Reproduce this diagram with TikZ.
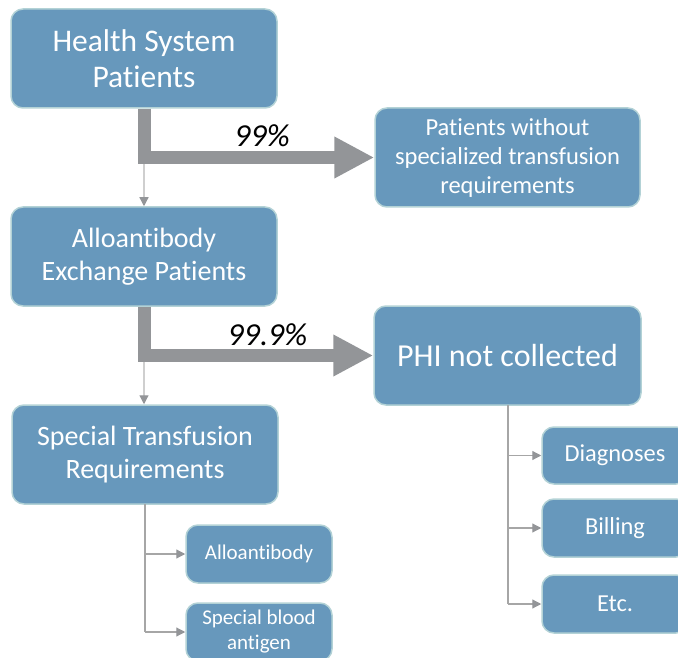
\documentclass[tikz,border=0pt]{standalone}
\usepackage{fontspec}
\setmainfont{Carlito}[Ligatures=NoCommon]
\usetikzlibrary{arrows.meta}
\definecolor{boxfill}{HTML}{6798BC}
\definecolor{boxedge}{HTML}{B3D2D6}
\definecolor{thickgray}{HTML}{939598}
\definecolor{thingray}{HTML}{A6A6A6}
\definecolor{palegray}{HTML}{CFCFCF}
\definecolor{tipgray}{HTML}{939598}
\begin{document}
\begin{tikzpicture}[x=1pt,y=-1pt,
  box/.style={draw=boxedge, line width=1.5pt, fill=boxfill, rounded corners=12pt,
    text=white, align=center, inner sep=0pt},
  bigbox/.style={box, minimum width=266pt, minimum height=99pt},
  smallbox/.style={box, minimum width=146pt, minimum height=58pt},
  flow/.style={draw=thickgray, line width=13pt, line join=miter,
    -{Triangle[width=39pt,length=40pt,fill=thickgray,color=thickgray]}},
  thinline/.style={draw=thingray, line width=1.2pt,
    -{Triangle[width=9pt,length=9pt,fill=tipgray,color=tipgray]}},
  paleline/.style={draw=palegray, line width=1.2pt,
    -{Triangle[width=9pt,length=9pt,fill=tipgray,color=tipgray]}},
  pct/.style={font=\fontsize{32}{36}\selectfont\itshape, text=black, inner sep=0pt}
]
\useasboundingbox (0,0) rectangle (678,658);

\node[bigbox, font=\fontsize{31.5}{36}\selectfont] (hs) at (144,58.5) {Health System\\Patients};
\node[bigbox, minimum width=265pt, font=\fontsize{24.5}{29}\selectfont] (pw) at (507.5,157.5) {Patients without\\specialized transfusion\\requirements};
\node[bigbox, font=\fontsize{28}{33}\selectfont] (ae) at (144,256.5) {Alloantibody\\Exchange Patients};
\node[bigbox, minimum width=267pt, font=\fontsize{32}{36}\selectfont] (phi) at (507.5,355.5) {PHI not collected};
\node[bigbox, font=\fontsize{28}{33}\selectfont] (st) at (145,454.5) {Special Transfusion\\Requirements};
\node[smallbox, font=\fontsize{21}{25}\selectfont] (al) at (259,554) {Alloantibody};
\node[smallbox, font=\fontsize{21}{25}\selectfont] (sb) at (259,632) {Special blood\\antigen};
\node[smallbox, minimum height=57pt, font=\fontsize{24.4}{28}\selectfont] (dg) at (615,455.5) {Diagnoses};
\node[smallbox, font=\fontsize{24.4}{28}\selectfont] (bl) at (615,528) {Billing};
\node[smallbox, font=\fontsize{24.4}{28}\selectfont] (et) at (615,604) {Etc.};

% thick flows
\draw[flow] (hs.south) |- (pw.west);
\draw[flow] (ae.south) |- (phi.west);
\node[pct] (p1) at (262,135.5) {99\%};
\node[pct] (p2) at (267.5,335) {99.9\%};

% thin down arrows
\coordinate (c1) at (144,164);
\coordinate (c2) at (144,362);
\draw[paleline] (c1) -- (ae.north);
\draw[paleline] (c2) -- (c2 |- st.north);

% branches
\coordinate (s0) at (145,504);
\draw[thingray, line width=1.2pt] (s0) -- (145,632);
\draw[thinline] (145,554) -- (al.west);
\draw[thinline] (145,632) -- (sb.west);

\coordinate (q0) at (508,405);
\draw[thingray, line width=1.2pt] (q0) -- (508,604);
\draw[thinline] (508,455.5) -- (dg.west);
\draw[thinline] (508,528) -- (bl.west);
\draw[thinline] (508,604) -- (et.west);
\end{tikzpicture}
\end{document}
